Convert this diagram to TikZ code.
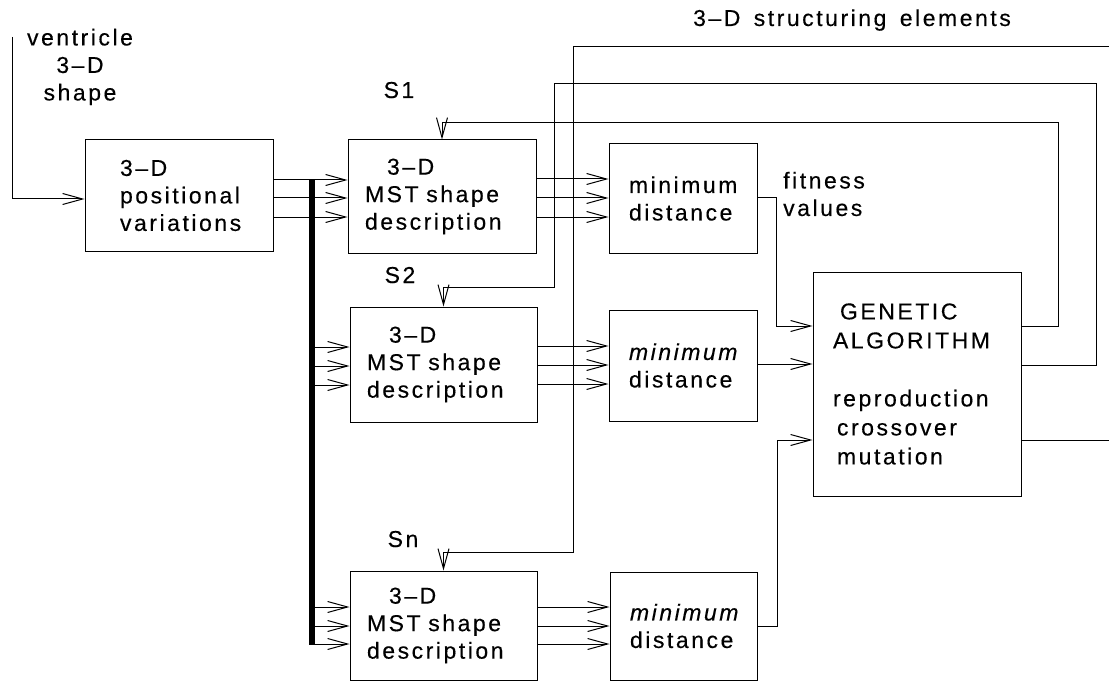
\documentclass[tikz,border=0pt]{standalone}
\usepackage{fontspec}
\setmainfont{Liberation Sans}[LetterSpace=11, WordSpace=1.5, FakeBold=0.3]
\usetikzlibrary{arrows.meta,calc}
\begin{document}
\begin{tikzpicture}[x=1pt,y=-1pt,
  every node/.style={font=\fontsize{23}{27.5}\selectfont},
  box/.style={draw, line width=1pt, inner ysep=0pt, align=left},
  arr/.style={-{Straight Barb[length=20pt,width=11pt]}, line width=1pt},
  ln/.style={line width=1pt},
  lbl/.style={inner sep=0pt}
]
\useasboundingbox (0,0) rectangle (1109,682);

% boxes
\node[box, text width=118pt, inner xsep=35pt, minimum height=111pt] (pos) at (179,195.5) {3–D\\positional\\variations};
\node[box, text width=154pt, inner xsep=17pt, minimum height=113pt] (s1) at (442,196.5) {\hspace*{22pt}3–D\\MST shape\\description};
\node[box, text width=153pt, inner xsep=17pt, minimum height=115pt] (s2) at (443.5,364.5) {\hspace*{22pt}3–D\\MST shape\\description};
\node[box, text width=153pt, inner xsep=17pt, minimum height=109pt] (sn) at (443.5,625.5) {\hspace*{22pt}3–D\\MST shape\\description};
\node[box, text width=108pt, inner xsep=20pt, minimum height=109pt] (m1) at (683,198.5) {minimum\\distance};
\node[box, text width=108pt, inner xsep=20pt, minimum height=111pt] (m2) at (683,365.5) {\textit{minimum}\\distance};
\node[box, text width=107pt, inner xsep=20pt, minimum height=108pt] (mn) at (683.5,626) {\textit{minimum}\\distance};
\node[box, text width=168pt, inner xsep=20pt, minimum height=224pt, font=\fontsize{23}{29}\selectfont] (ga) at (917,384)
  {\hspace*{7pt}GENETIC\\ALGORITHM\\[29pt]reproduction\\\hspace*{4pt}crossover\\\hspace*{4pt}mutation};

% labels
\node[lbl, align=center] (vt) at (80,67) {ventricle\\3–D\\shape};
\node[lbl, align=left, anchor=west] (fit) at (783,194) {fitness\\values};
\node[lbl, anchor=base] (l1) at (399,98) {S1};
\node[lbl, anchor=base] (l2) at (400,283) {S2};
\node[lbl, anchor=base] (ln) at (403,547) {Sn};
\node[lbl, anchor=base] (se) at (852,26) {3–D structuring elements};

% input
\coordinate (vin) at (12,37);
\draw[arr] (vin) |- (pos.west |- 0,199);

% distribution bar
\coordinate (bt) at (311.5,180);
\coordinate (bb) at (311.5,645);
\foreach \y in {180,198,217} \draw[arr] (pos.east |- 0,\y) -- (s1.west |- 0,\y);
\foreach \y in {347,366,385} \draw[arr] (bt |- 0,\y) -- (s2.west |- 0,\y);
\foreach \y in {607,626,644} \draw[arr] (bt |- 0,\y) -- (sn.west |- 0,\y);
\draw[line width=6pt] (bt) -- (bb);

% MST -> minimum distance
\foreach \y in {179,198,217} \draw[arr] (s1.east |- 0,\y) -- (m1.west |- 0,\y);
\foreach \y in {346,365,384} \draw[arr] (s2.east |- 0,\y) -- (m2.west |- 0,\y);
\foreach \y in {607,626,644} \draw[arr] (sn.east |- 0,\y) -- (mn.west |- 0,\y);

% fitness values -> GA
\draw[arr] (m1.east |- 0,198) -- ++(19,0) |- (ga.west |- 0,326);
\draw[arr] (m2.east |- 0,364) -- (ga.west |- 0,364);
\draw[arr] (mn.east |- 0,626) -- ++(20,0) |- (ga.west |- 0,440);

% feedback structuring elements
\draw[arr] (ga.east |- 0,326) -| (1058,123) -| (s1.north);
\draw[arr] (ga.east |- 0,365) -| (1096,84) -| (554,287) -| (s2.north);
\coordinate (sein) at (1109,47);
\draw[arr] (sein) -| (573,552) -| (sn.north);
\coordinate (gaout) at (1109,440);
\draw[ln] (ga.east |- 0,440) -- (gaout);
\end{tikzpicture}
\end{document}
